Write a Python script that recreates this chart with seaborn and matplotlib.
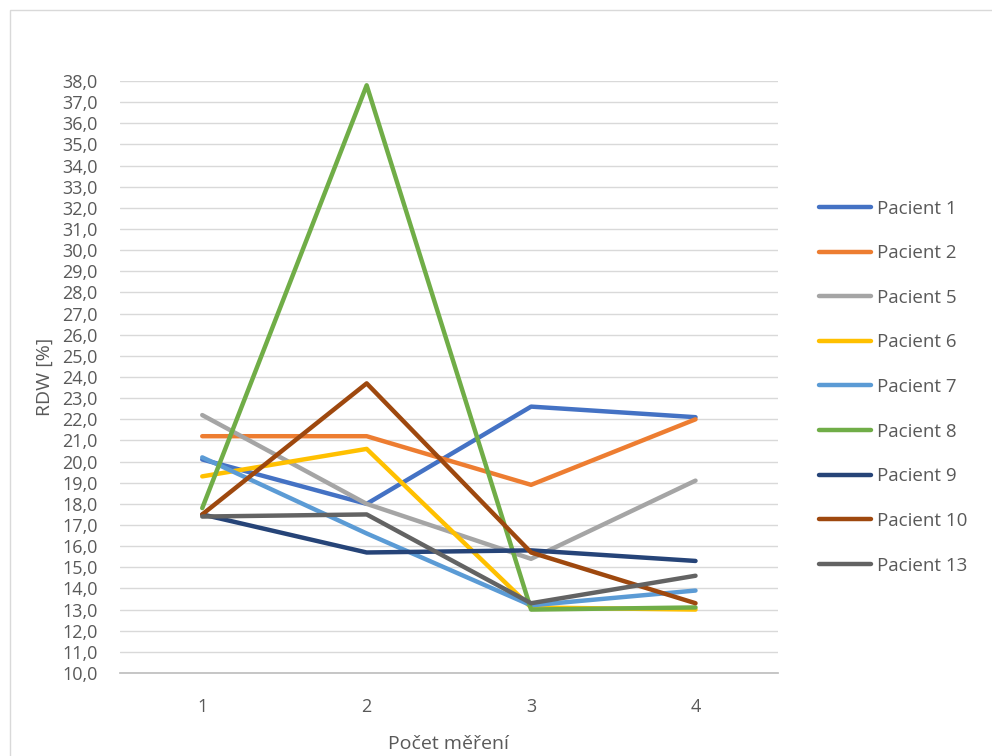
import pandas as pd
import matplotlib.pyplot as plt
import seaborn as sns
from matplotlib.patches import Rectangle

# Hodnoty RDW [%] pro jednotlivá měření
mereni = [1, 2, 3, 4]
pacienti = ["Pacient 1", "Pacient 2", "Pacient 5", "Pacient 6", "Pacient 7",
            "Pacient 8", "Pacient 9", "Pacient 10", "Pacient 13"]
p1 = [20.1, 18.0, 22.6, 22.1]
p2 = [21.2, 21.2, 18.9, 22.0]
p5 = [22.2, 18.0, 15.4, 19.1]
p6 = [19.3, 20.6, 13.1, 13.0]
p7 = [20.2, 16.6, 13.2, 13.9]
p8 = [17.8, 37.8, 13.0, 13.1]
p9 = [17.5, 15.7, 15.8, 15.3]
p10 = [17.5, 23.7, 15.7, 13.3]
p13 = [17.4, 17.5, 13.3, 14.6]
barvy = ["#4472C4", "#ED7D31", "#A5A5A5", "#FFC000", "#5B9BD5",
         "#70AD47", "#264478", "#9E480E", "#636363"]

hodnoty = [p1, p2, p5, p6, p7, p8, p9, p10, p13]
df = pd.DataFrame([
    {"pacient": p, "mereni": m, "rdw": v}
    for p, vals in zip(pacienti, hodnoty)
    for m, v in zip(mereni, vals)
])

sns.set_theme(style="white")
plt.rcParams['font.family'] = ['Open Sans', 'DejaVu Sans']

fig = plt.figure(figsize=(9.92, 7.56), dpi=100)
ax = fig.add_axes([0.121, 0.1098, 0.663, 0.783])

sns.lineplot(data=df, x="mereni", y="rdw", hue="pacient", hue_order=pacienti,
             palette=barvy, linewidth=3.2, ax=ax, legend=False, zorder=3)

ax.set_xlim(0.5, 4.5)
ax.set_ylim(10, 38)
ax.set_yticks([i for i in range(10, 39)])
ax.set_yticklabels([f"{i},0" for i in range(10, 39)])
ax.set_xticks(mereni)
ax.grid(axis="y", color="#D9D9D9", linewidth=1)
for s in ["top", "right", "left"]:
    ax.spines[s].set_visible(False)
ax.spines["bottom"].set_color("#BFBFBF")
ax.tick_params(axis="both", colors="#595959", labelsize=13, length=0)
ax.tick_params(axis="y", pad=16)
ax.tick_params(axis="x", pad=18)
ax.set_xlabel("Počet měření", fontsize=14, color="#595959", labelpad=14)
ax.set_ylabel("RDW [%]", fontsize=14, color="#595959", labelpad=6)

handles = [plt.Line2D([], [], color=c, linewidth=3.2, solid_capstyle="round") for c in barvy]
leg = fig.legend(handles, pacienti, loc="upper left", bbox_to_anchor=(0.818, 0.746),
                 frameon=False, fontsize=13.5, labelspacing=1.42, handlelength=2.8,
                 handletextpad=0.3, borderaxespad=0)
for t in leg.get_texts():
    t.set_color("#595959")

fig.patches.append(Rectangle((0.01, -0.05), 1.2, 1.037, transform=fig.transFigure,
                             fill=False, edgecolor="#D9D9D9", linewidth=1))

fig.savefig("out.png", dpi=100)
